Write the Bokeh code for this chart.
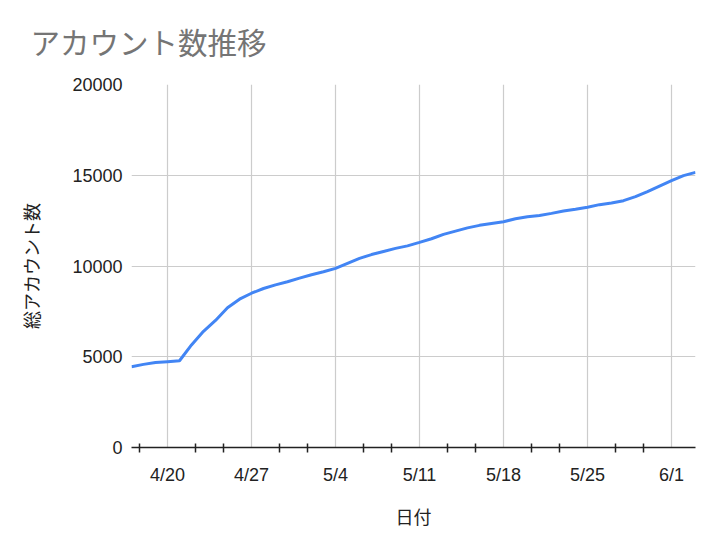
import pandas as pd
from bokeh.plotting import figure
from bokeh.models import FixedTicker, Range1d, ColumnDataSource
from bokeh.embed import file_html
from bokeh.resources import INLINE

title_text = "アカウント数推移"
x_label = "日付"
y_label = "総アカウント数"

dates = pd.date_range("2020-04-17", "2020-06-03", freq="D")
accounts = [4450, 4580, 4680, 4730, 4780, 5650, 6400, 7000, 7700, 8170,
            8500, 8760, 8960, 9130, 9330, 9520, 9680, 9870, 10150, 10420,
            10630, 10800, 10970, 11110, 11300, 11500, 11740, 11920, 12100, 12240,
            12340, 12440, 12600, 12710, 12780, 12900, 13030, 13130, 13240, 13380,
            13470, 13600, 13820, 14100, 14400, 14700, 14980, 15160]

tick_dates = ["2020-04-20", "2020-04-27", "2020-05-04", "2020-05-11",
              "2020-05-18", "2020-05-25", "2020-06-01"]
tick_labels = ["4/20", "4/27", "5/4", "5/11", "5/18", "5/25", "6/1"]
y_ticks = [0, 5000, 10000, 15000, 20000]

FONT = "'Liberation Sans', Arial, 'Noto Sans CJK JP', sans-serif"
JFONT = "'Liberation Sans', 'Noto Sans CJK JP', sans-serif"

def ms(d):
    return pd.Timestamp(d).value / 1e6

major = [ms(d) for d in tick_dates]
day = 86400000.0
start, end = ms(dates[0]), ms(dates[-1])
minor = []
k = -10
while k < 40:
    pos = major[0] + k * day * 7 / 3
    if k % 3 != 0 and start <= pos <= end:
        minor.append(pos)
    k += 1

src = ColumnDataSource(dict(x=dates, y=accounts))

p = figure(width=706, height=531, x_axis_type="datetime",
           output_backend="svg", toolbar_location=None,
           x_range=Range1d(start, end), y_range=Range1d(0, 20000),
           min_border_left=131, min_border_right=11,
           min_border_top=84, min_border_bottom=84)
p.outline_line_color = None
p.background_fill_color = "white"
p.border_fill_color = "white"

p.line("x", "y", source=src, line_color="#4285F4", line_width=3)

p.title.text = title_text
p.title.text_font = JFONT
p.title.text_font_size = "29.5px"
p.title.text_font_style = "normal"
p.title.text_color = "#757575"
p.title.align = "left"
p.title.offset = -101
p.title.standoff = 49

xa = p.xaxis[0]
xa.ticker = FixedTicker(ticks=major, minor_ticks=minor)
xa.major_label_overrides = {m: l for m, l in zip(major, tick_labels)}
xa.axis_line_color = "#222222"
xa.axis_line_width = 1.5
xa.major_tick_line_color = None
xa.major_tick_out = 0
xa.major_tick_in = 0
xa.minor_tick_line_color = "#222222"
xa.minor_tick_line_width = 1.5
xa.minor_tick_in = 4
xa.minor_tick_out = 5
xa.major_label_standoff = 12
xa.major_label_text_font = FONT
xa.major_label_text_font_size = "18px"
xa.major_label_text_color = "#222222"
xa.axis_label = x_label
xa.axis_label_text_font = JFONT
xa.axis_label_text_font_size = "18px"
xa.axis_label_text_font_style = "normal"
xa.axis_label_text_color = "#222222"
xa.axis_label_standoff = 20

ya = p.yaxis[0]
ya.ticker = FixedTicker(ticks=y_ticks)
ya.axis_line_color = None
ya.major_tick_line_color = None
ya.minor_tick_line_color = None
ya.major_tick_out = 0
ya.major_tick_in = 0
ya.major_label_standoff = 9
ya.major_label_text_font = FONT
ya.major_label_text_font_size = "18px"
ya.major_label_text_color = "#222222"
ya.axis_label = y_label
ya.axis_label_text_font = JFONT
ya.axis_label_text_font_size = "18px"
ya.axis_label_text_font_style = "normal"
ya.axis_label_text_color = "#222222"
ya.axis_label_standoff = 26

p.xgrid.grid_line_color = "#cccccc"
p.xgrid.grid_line_width = 1.2
p.ygrid.grid_line_color = "#cccccc"
p.ygrid.grid_line_width = 1.2

open("out.html", "w").write(file_html(p, INLINE))
